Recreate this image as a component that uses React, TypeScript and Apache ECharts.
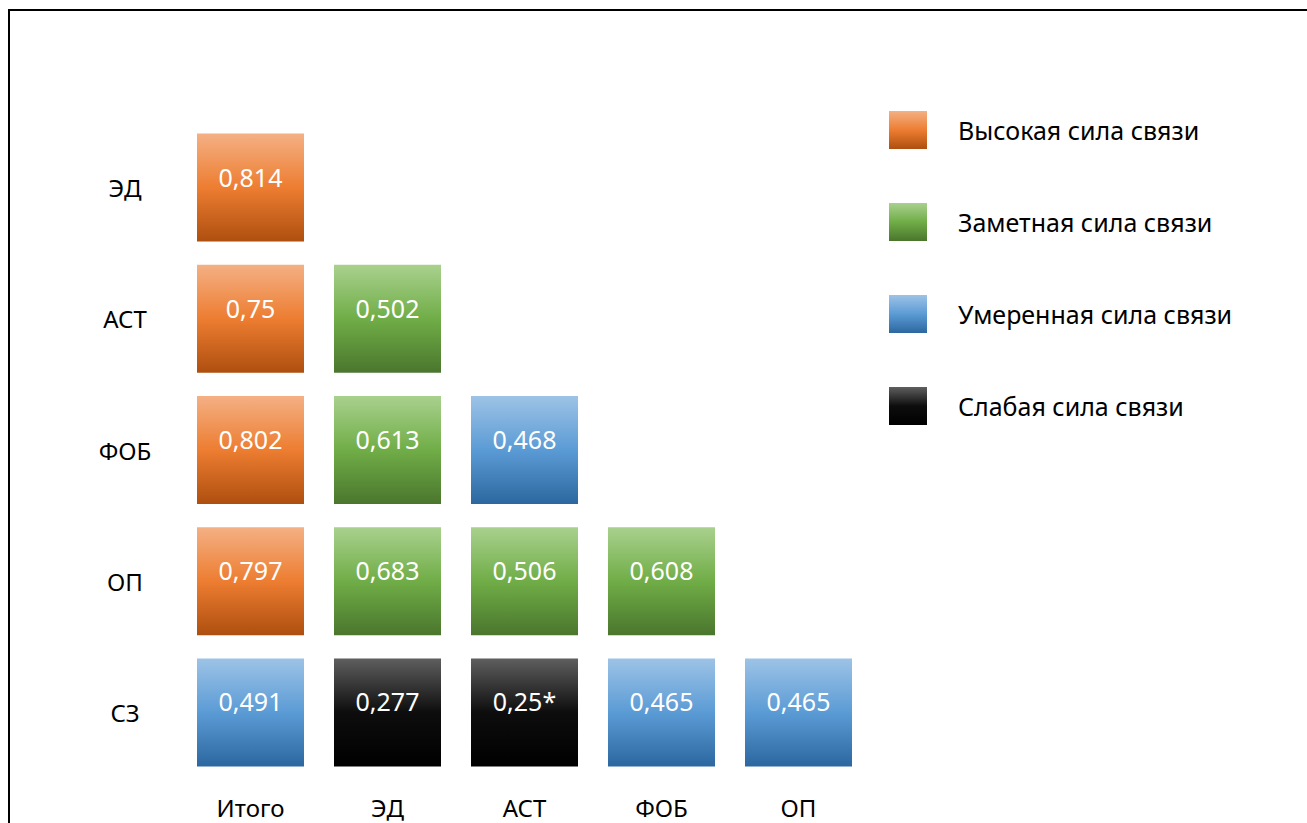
import React, { useEffect, useRef } from "react";
import * as echarts from "echarts";

const rowNames = ["ЭД", "АСТ", "ФОБ", "ОП", "СЗ"];
const colNames = ["Итого", "ЭД", "АСТ", "ФОБ", "ОП"];

const edValues = [0.814];
const astValues = [0.75, 0.502];
const fobValues = [0.802, 0.613, 0.468];
const opValues = [0.797, 0.683, 0.506, 0.608];
const szValues = [0.491, 0.277, 0.25, 0.465, 0.465];
const szMarks = ["", "", "*", "", ""];

const classNames = ["Высокая сила связи", "Заметная сила связи", "Умеренная сила связи", "Слабая сила связи"];
const classLowerBounds = [0.7, 0.5, 0.3, 0];
const classColors = [
  ["#f4b084", "#ed7d31", "#ae4f0f"],
  ["#a9d18e", "#70ad47", "#4a762d"],
  ["#9dc3e6", "#5b9bd5", "#2c679f"],
  ["#5f5f5f", "#0d0d0d", "#000000"],
];

const FONT = "'Noto Sans', 'DejaVu Sans', sans-serif";

export default function App() {
  const ref = useRef<HTMLDivElement>(null);
  useEffect(() => {
    if (!ref.current) return;
    const chart = echarts.init(ref.current, undefined, { renderer: "svg" });
    const rowsData = [edValues, astValues, fobValues, opValues, szValues];
    const marks = [[], [], [], [], szMarks];
    const classOf = (v: number) => classLowerBounds.findIndex((b) => v >= b);
    const series = classNames.map((name, ci) => {
      const data: any[] = [];
      rowsData.forEach((vals, ri) => {
        vals.forEach((v, cj) => {
          if (classOf(v) === ci) {
            const m = (marks[ri] as string[])[cj] || "";
            data.push({ value: [colNames[cj], rowNames[ri], v], labelText: String(v).replace(".", ",") + m });
          }
        });
      });
      const [c0, c1, c2] = classColors[ci];
      return {
        type: "scatter",
        name,
        symbol: "rect",
        symbolSize: [107, 108],
        data,
        itemStyle: {
          color: new echarts.graphic.LinearGradient(0, 0, 0, 1, [
            { offset: 0, color: c0 },
            { offset: 0.5, color: c1 },
            { offset: 1, color: c2 },
          ]),
          opacity: 1,
        },
        label: {
          show: true,
          position: "inside",
          offset: [0, -11],
          color: "#ffffff",
          fontFamily: FONT,
          fontSize: 25,
          formatter: (p: any) => p.data.labelText,
        },
        emphasis: { disabled: true },
      };
    });
    chart.setOption({
      animation: false,
      backgroundColor: "#ffffff",
      grid: { left: 182, width: 685, top: 122, height: 656 },
      xAxis: {
        type: "category",
        data: colNames,
        axisLine: { show: false },
        axisTick: { show: false },
        splitLine: { show: false },
        axisLabel: { color: "#000", fontFamily: FONT, fontSize: 24, margin: 17 },
      },
      yAxis: {
        type: "category",
        data: rowNames,
        inverse: true,
        axisLine: { show: false },
        axisTick: { show: false },
        splitLine: { show: false },
        axisLabel: { color: "#000", fontFamily: FONT, fontSize: 24, align: "center", margin: 57, padding: [10, 0, 0, 0] },
      },
      legend: {
        orient: "vertical",
        left: 884,
        top: 106,
        itemWidth: 38,
        itemHeight: 38,
        itemGap: 54,
        icon: "rect",
        textStyle: { color: "#000", fontFamily: FONT, fontSize: 25, padding: [0, 0, 0, 26] },
        data: classNames,
      },
      series,
      graphic: [
        {
          type: "rect",
          shape: { x: 9, y: 10, width: 1320, height: 840 },
          style: { fill: "none", stroke: "#000", lineWidth: 2 },
          silent: true,
        },
      ],
    });
    return () => chart.dispose();
  }, []);
  return <div ref={ref} style={{ position: "fixed", left: 0, top: 0, width: 1307, height: 823 }} />;
}
